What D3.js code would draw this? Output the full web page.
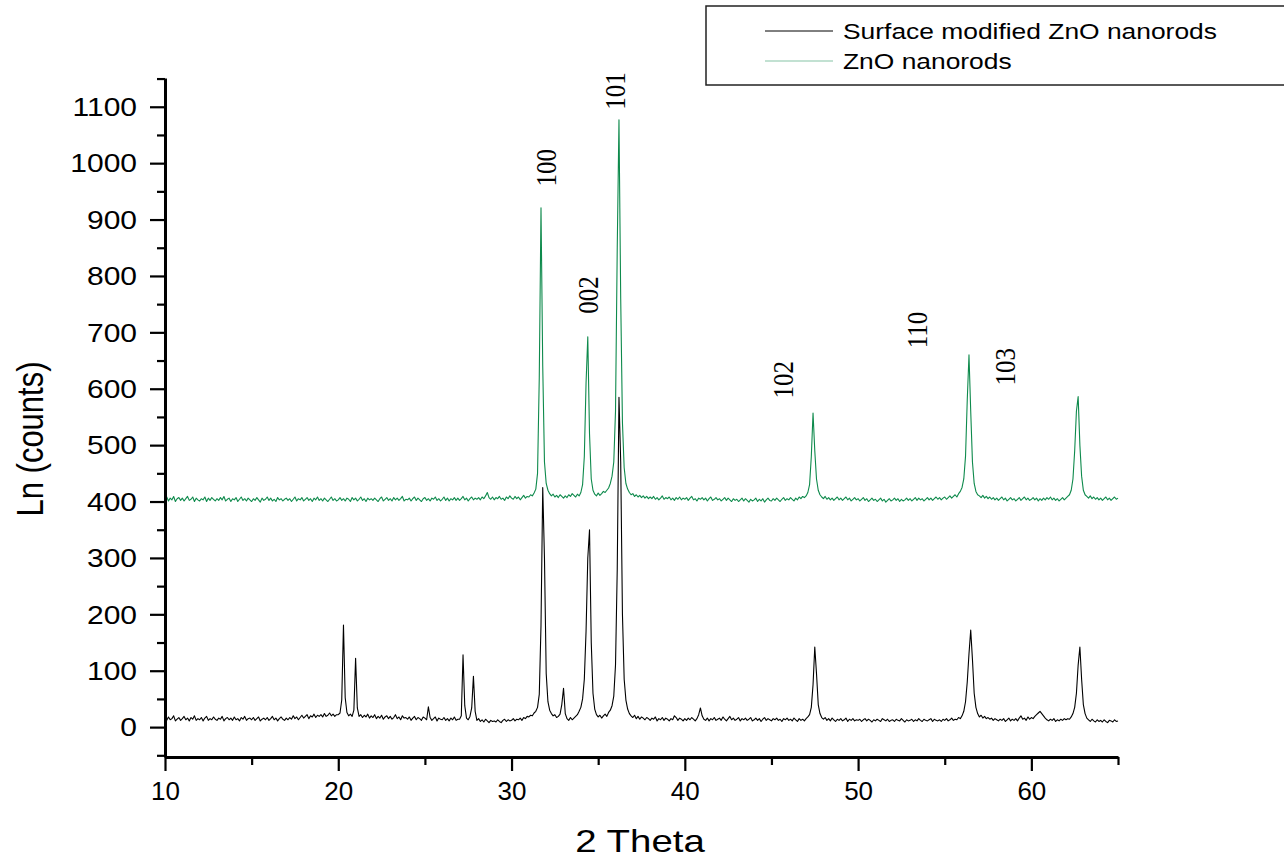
<!DOCTYPE html>
<html>
<head>
<meta charset="utf-8">
<script src="https://cdn.jsdelivr.net/npm/d3@7"></script>
<style>
  body { margin: 0; background: #fff; }
  text { font-family: Arial, "Liberation Sans", sans-serif; fill: #000; }
</style>
</head>
<body>
<div id="chart"></div>
<script>
// scan settings (2 theta, degrees)
var scanStart = 10;
var scanStep = 0.1;

// Surface modified ZnO nanorods, counts, one row per degree (10.0 .. 65.0)
var modifiedCounts = [
  16,12,18,13,15,20,11,14,17,12,
  15,19,13,16,11,17,14,20,12,15,
  13,17,11,16,19,12,15,13,18,14,
  12,16,14,19,11,15,17,13,16,12,
  18,13,15,11,17,14,19,12,15,16,
  13,17,12,15,18,11,14,16,13,17,
  12,15,19,13,16,11,15,18,14,12,
  16,13,17,14,20,15,18,13,17,21,
  16,19,22,15,20,18,23,17,21,19,
  22,18,24,19,21,25,20,23,19,22,
  22,25,48,181,52,26,20,23,19,30,
  122,34,19,22,17,21,18,23,16,20,
  17,22,15,19,16,21,14,18,20,15,
  19,14,17,22,15,18,13,20,16,17,
  14,18,12,16,19,13,17,15,12,18,
  16,13,36,17,12,15,18,11,16,14,
  13,17,12,15,11,16,13,18,12,14,
  14,20,128,38,16,13,19,34,90,28,
  12,15,10,13,9,14,11,8,12,10,
  11,9,13,10,8,12,14,10,13,11,
  12,15,11,14,13,16,12,17,15,19,
  18,21,20,25,28,35,58,180,425,300,
  95,45,30,24,20,22,17,19,23,40,
  69,24,15,12,17,13,16,19,22,28,
  35,50,85,170,300,350,150,60,32,22,
  18,21,16,20,23,19,26,30,38,55,
  110,280,585,470,200,85,48,32,24,20,
  17,21,15,19,14,18,16,13,17,15,
  12,16,14,18,11,15,13,17,12,16,
  14,11,15,13,20,17,12,16,14,11,
  15,12,16,13,17,14,11,15,22,34,
  20,14,12,16,11,15,13,17,12,14,
  16,12,18,14,11,15,19,13,16,12,
  14,17,11,15,13,16,12,14,17,11,
  13,16,12,15,10,14,17,12,15,13,
  11,15,13,16,12,14,10,15,13,16,
  12,14,11,16,13,10,15,12,14,11,
  15,18,22,35,75,142,95,40,24,17,
  14,17,12,15,11,16,13,10,14,12,
  15,11,13,16,10,14,12,15,11,13,
  12,14,10,13,15,11,14,12,9,13,
  11,14,12,10,15,13,11,14,10,12,
  13,10,14,12,11,15,12,9,13,11,
  12,14,10,13,11,15,12,10,14,12,
  11,13,15,10,14,12,11,13,10,14,
  12,15,11,13,16,12,14,13,17,15,
  20,28,45,80,130,172,120,60,35,24,
  18,21,16,19,15,17,14,16,12,15,
  13,11,14,12,15,10,13,16,11,14,
  12,15,11,16,20,14,16,12,18,14,
  17,15,19,22,25,28,24,20,16,13,
  11,14,12,15,10,13,11,14,12,15,
  13,15,14,18,24,35,60,110,142,85,
  40,24,16,13,10,14,11,9,13,10,
  12,9,13,10,8,12,11,9,13,10,
  11
];

// ZnO nanorods (plotted with its own offset, as in the figure)
var znoCounts = [
  404,408,401,406,403,409,400,405,407,402,
  406,401,405,409,402,404,408,400,406,403,
  401,405,403,408,400,406,402,407,404,401,
  405,402,407,403,409,401,404,406,400,405,
  403,407,400,404,408,402,405,401,406,403,
  400,405,402,407,403,399,406,402,404,408,
  402,406,401,404,400,407,403,405,401,404,
  406,402,405,400,404,408,401,405,403,407,
  401,404,407,402,405,400,406,403,408,402,
  405,401,406,403,400,404,408,402,405,401,
  403,407,402,405,401,406,404,400,407,403,
  406,401,404,408,402,405,400,406,403,405,
  402,406,403,400,405,408,401,404,407,402,
  405,401,407,403,406,402,405,409,401,404,
  403,406,401,405,408,402,406,403,400,405,
  407,402,405,401,406,404,408,402,405,401,
  404,408,402,406,401,405,403,407,402,406,
  402,405,409,403,406,401,405,408,403,406,
  404,407,403,408,405,410,416,407,404,408,
  403,407,405,409,404,406,402,408,405,410,
  406,404,409,405,408,403,407,411,406,409,
  408,412,410,415,422,450,620,921,640,470,
  432,420,414,410,413,408,411,407,412,409,
  406,410,407,412,409,414,411,408,413,410,
  416,430,480,610,692,520,440,420,413,410,
  415,411,414,418,416,420,424,432,445,470,
  560,850,1077,760,540,460,432,422,416,412,
  414,409,412,408,411,407,410,406,409,405,
  408,405,409,404,407,403,406,410,404,407,
  405,408,403,406,402,407,404,408,403,406,
  404,407,402,406,409,403,405,401,406,404,
  407,403,406,401,405,408,402,404,407,403,
  405,401,404,407,402,406,403,400,405,402,
  404,400,403,406,401,405,402,399,404,401,
  403,406,400,404,401,405,399,403,406,402,
  401,405,402,406,403,400,404,407,402,405,
  403,407,404,401,406,403,408,405,409,407,
  410,416,430,480,557,490,440,420,412,408,
  405,409,404,407,403,406,402,405,408,403,
  406,402,405,408,403,406,401,404,407,403,
  405,401,404,407,402,405,400,403,406,402,
  404,400,403,406,401,404,399,402,405,401,
  403,406,402,405,400,404,401,403,406,402,
  405,401,404,407,402,406,403,405,401,404,
  407,403,406,402,405,408,404,407,403,406,
  408,404,407,410,406,409,412,408,414,418,
  425,440,480,580,660,560,470,432,418,412,
  410,407,411,406,409,405,408,404,407,403,
  406,402,405,408,403,406,401,404,407,403,
  405,401,404,407,402,405,408,403,406,402,
  404,407,403,406,401,405,402,406,403,407,
  404,408,403,406,402,405,401,404,407,403,
  406,409,412,420,440,490,560,586,500,445,
  420,412,409,406,410,405,408,404,407,403,
  406,402,405,408,403,406,402,405,408,404,
  406
];

var seriesNames = ["Surface modified ZnO nanorods", "ZnO nanorods"];
var seriesColors = ["#000000", "#0e8a4c"];

// hkl reflections written above the peaks
var peakLabels = ["100", "002", "101", "102", "110", "103"];
var peakLabelTheta = [31.97, 34.39, 35.98, 45.64, 53.37, 58.44];
var peakLabelCounts = [992, 766, 1128, 616, 704, 639];

var xTicks = [10, 20, 30, 40, 50, 60];
var xMinorTicks = [15, 25, 35, 45, 55, 65];
var yTicks = [0, 100, 200, 300, 400, 500, 600, 700, 800, 900, 1000, 1100];
var yMinorTicks = [-50, 50, 150, 250, 350, 450, 550, 650, 750, 850, 950, 1050, 1150];

var width = 1284, height = 860;
var stretch = 1.2; // the figure's text is a bit wide

var x = d3.scaleLinear().domain([10, 65]).range([165, 1118]);
var y = d3.scaleLinear().domain([-53, 1151]).range([757, 78]);

var svg = d3.select("#chart").append("svg")
    .attr("width", width)
    .attr("height", height);

var series = [modifiedCounts, znoCounts];

var line = d3.line()
    .x(function(d, i) { return x(scanStart + i * scanStep); })
    .y(function(d) { return y(d); });

// green under black so the black peaks stay on top where they overlap
[1, 0].forEach(function(k) {
  svg.append("path")
    .datum(series[k])
    .attr("fill", "none")
    .attr("stroke", seriesColors[k])
    .attr("stroke-width", 1.1)
    .attr("stroke-linejoin", "round")
    .attr("d", line);
});

// minor ticks
svg.append("g")
    .attr("transform", "translate(0,757)")
    .call(d3.axisBottom(x).tickValues(xMinorTicks).tickSize(8).tickSizeOuter(0).tickFormat(""))
    .call(function(g) { g.select(".domain").remove(); })
    .selectAll("line").attr("stroke-width", 2.2);

svg.append("g")
    .attr("transform", "translate(165,0)")
    .call(d3.axisLeft(y).tickValues(yMinorTicks).tickSize(8).tickSizeOuter(0).tickFormat(""))
    .call(function(g) { g.select(".domain").remove(); })
    .selectAll("line").attr("stroke-width", 2.2);

// X axis
var xAxis = svg.append("g")
    .attr("transform", "translate(0,757)")
    .call(d3.axisBottom(x).tickValues(xTicks).tickSize(14).tickSizeOuter(0).tickFormat(d3.format("d")));
xAxis.select(".domain").attr("stroke-width", 3);
xAxis.selectAll("line").attr("stroke-width", 2.2);
xAxis.selectAll("text")
    .attr("y", 25)
    .attr("dy", "0.71em")
    .style("font-size", "26px")
    .style("font-family", "Arial, 'Liberation Sans', sans-serif");

// Y axis
var yAxis = svg.append("g")
    .attr("transform", "translate(165,0)")
    .call(d3.axisLeft(y).tickValues(yTicks).tickSize(15).tickSizeOuter(0).tickFormat(d3.format("d")));
yAxis.select(".domain").attr("stroke-width", 3);
yAxis.selectAll("line").attr("stroke-width", 2.2);
yAxis.selectAll("text")
    .attr("x", -28 / stretch)
    .attr("dy", "0.35em")
    .attr("transform", "scale(" + stretch + ",1)")
    .style("font-size", "25px")
    .style("font-family", "Arial, 'Liberation Sans', sans-serif");

// axis titles
svg.append("text")
    .attr("text-anchor", "middle")
    .attr("transform", "translate(640,852) scale(" + stretch + ",1)")
    .style("font-size", "32px")
    .text("2 Theta");

svg.append("text")
    .attr("text-anchor", "middle")
    .attr("dominant-baseline", "central")
    .attr("transform", "translate(30,439) scale(" + stretch + ",1) rotate(-90)")
    .style("font-size", "31px")
    .text("Ln (counts)");

// peak labels
peakLabels.forEach(function(lbl, i) {
  svg.append("text")
    .attr("text-anchor", "middle")
    .attr("dominant-baseline", "central")
    .attr("transform", "translate(" + x(peakLabelTheta[i]) + "," + y(peakLabelCounts[i]) + ") scale(" + stretch + ",1) rotate(-90)")
    .style("font-family", "'Times New Roman', 'Liberation Serif', serif")
    .style("font-size", "25px")
    .text(lbl);
});

// legend
var legend = svg.append("g");
legend.append("rect")
    .attr("x", 706).attr("y", 6)
    .attr("width", 600).attr("height", 79)
    .attr("fill", "#fff")
    .attr("stroke", "#222")
    .attr("stroke-width", 1.5);

seriesNames.forEach(function(name, i) {
  var ly = 31 + i * 30;
  legend.append("line")
    .attr("x1", 765).attr("x2", 833)
    .attr("y1", ly).attr("y2", ly)
    .attr("stroke", seriesColors[i])
    .attr("stroke-opacity", i == 1 ? 0.5 : 1)
    .attr("stroke-width", 1);
  legend.append("text")
    .attr("dominant-baseline", "central")
    .attr("transform", "translate(843," + ly + ") scale(" + stretch + ",1)")
    .style("font-size", "22px")
    .text(name);
});
</script>
</body>
</html>
